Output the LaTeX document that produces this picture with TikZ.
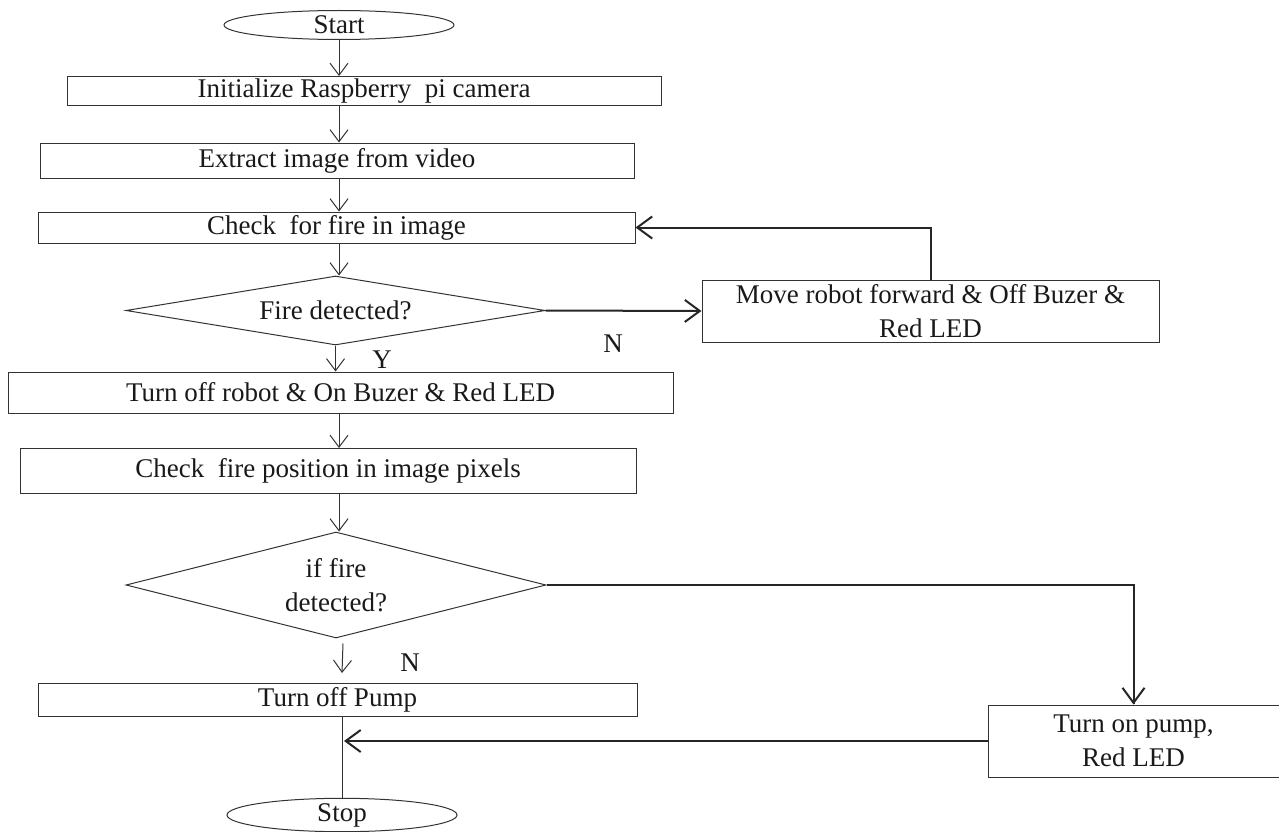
\documentclass[tikz,border=0pt]{standalone}
\usepackage{fontspec}
\setmainfont{Liberation Serif}
\usetikzlibrary{arrows.meta,shapes.geometric}
\begin{document}
\begin{tikzpicture}[x=1pt,y=-1pt,
  every node/.style={font=\fontsize{27}{34}\selectfont, text=black!90},
  box/.style={draw=black!80, line width=1pt, inner sep=0pt, align=center},
  term/.style={ellipse, draw=black!80, line width=1pt, inner sep=0pt},
  dec/.style={diamond, draw=black!80, line width=1pt, inner sep=0pt, align=center},
  arr/.style={draw=black!80, line width=1pt, -{Straight Barb[length=12pt,width=18pt]}},
  harr/.style={draw=black!85, line width=2pt, -{Straight Barb[length=15pt,width=22pt]}},
  hline/.style={draw=black!85, line width=2pt},
  plain/.style={draw=black!80, line width=1pt},
  lbl/.style={inner sep=0pt}]
\useasboundingbox (0,0) rectangle (1279,832);
% main column
\node[term, minimum width=230pt, minimum height=29pt] (start) at (339,25) {Start};
\node[box, minimum width=594pt, minimum height=29pt] (init) at (364,91) {Initialize Raspberry~ pi camera};
\node[box, minimum width=594pt, minimum height=35pt] (extract) at (337,160.5) {Extract image from video};
\node[box, minimum width=597pt, minimum height=31pt] (check) at (336.5,227.5) {Check~ for fire in image};
\node[dec, aspect=6, minimum width=419pt, minimum height=69pt] (dia1) at (335.5,310.5) {Fire detected?};
\node[box, minimum width=665pt, minimum height=41pt] (robotoff) at (340.5,392.5) {Turn off robot \& On Buzer \& Red LED};
\node[box, minimum width=616pt, minimum height=45pt] (checkpos) at (328,471) {Check~ fire position in image pixels};
\node[dec, aspect=4, minimum width=420pt, minimum height=106pt] (dia2) at (336,585) {if fire\\detected?};
\node[box, minimum width=599pt, minimum height=33pt] (pump) at (337.5,700) {Turn off Pump};
\node[term, minimum width=230pt, minimum height=33pt] (stop) at (342,815) {Stop};
% right column
\node[box, minimum width=457pt, minimum height=62pt] (move) at (930.5,311) {Move robot forward \& Off Buzer \&\\Red LED};
\node[box, minimum width=291pt, minimum height=72pt] (pumpon) at (1133.5,741) {Turn on pump,\\Red LED};
% labels
\node[lbl] (ylab) at (382,360) {Y};
\node[lbl] (n1) at (613,344) {N};
\node[lbl] (n2) at (410,663) {N};
% main arrows
\draw[arr] (start.south) -- (start.south |- init.north);
\draw[arr] (init.south -| start) -- (extract.north -| start);
\draw[arr] (extract.south -| start) -- (check.north -| start);
\draw[arr] (check.south -| start) -- (dia1.north -| start);
\draw[arr] (dia1.south) -- (dia1.south |- robotoff.north);
\draw[arr] (robotoff.south -| start) -- (checkpos.north -| start);
\draw[arr] (checkpos.south -| start) -- (dia2.north -| start);
\draw[arr] ([xshift=7pt,yshift=-5pt]dia2.south) -- ([yshift=10pt]pump.north -| stop);
\draw[plain] (pump.south -| stop) -- (stop.north);
% side connectors
\draw[harr] (dia1.east) -- (move.west);
\draw[harr] (move.north) |- (check.east);
\draw[hline] (dia2.east) -| ([yshift=1pt]pumpon.north);
\draw[harr] (pumpon.north) ++(0,-2) -- (pumpon.north);
\draw[harr] (pumpon.west) -- ([xshift=2pt]stop.north |- pumpon.west);
\end{tikzpicture}
\end{document}
